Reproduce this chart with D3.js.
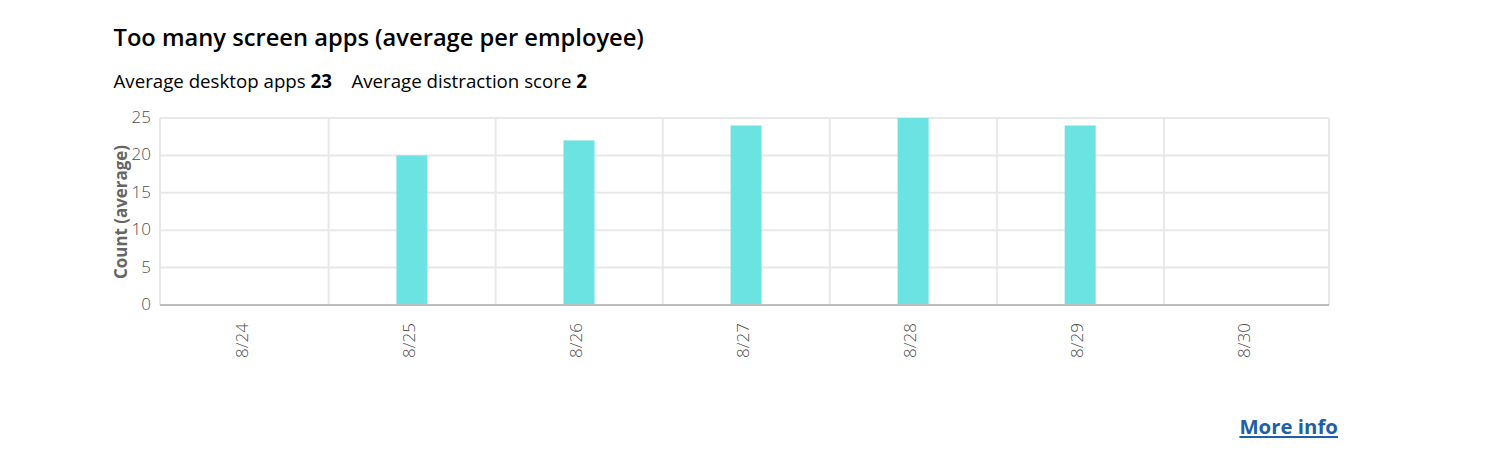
<!DOCTYPE html>
<html>
<head>
<meta charset="utf-8">
<script src="https://cdn.jsdelivr.net/npm/d3@7"></script>
<style>
body { margin: 0; background: #fff; }
text { font-family: "Open Sans", sans-serif; }
.grid line { stroke: #e8e8e8; stroke-width: 2; }
.tick-label { fill: #4d4d4d; font-size: 17px; font-weight: 300; }
</style>
</head>
<body>
<div id="chart"></div>
<script>
const categories = ["8/24", "8/25", "8/26", "8/27", "8/28", "8/29", "8/30"];
const counts = [0, 20, 22, 24, 25, 24, 0];
const yTicks = [0, 5, 10, 15, 20, 25];

const width = 1500;
const height = 450;
const plotLeft = 160;
const plotRight = 1329;
const plotTop = 118;
const plotBottom = 305;

const svg = d3.select("#chart").append("svg")
   .attr("width", width)
   .attr("height", height)
   .style("display", "block");

const x = d3.scaleBand()
   .domain(categories)
   .range([161.5, 1331]);

const y = d3.scaleLinear()
   .domain([0, 25])
   .range([plotBottom, plotTop]);

svg.append("text")
   .attr("x", 113.5)
   .attr("y", 45.5)
   .style("font-size", "23.7px")
   .style("font-weight", 600)
   .style("fill", "#000")
   .text("Too many screen apps (average per employee)");

const summary = svg.append("text")
   .attr("x", 113.5)
   .attr("y", 88)
   .style("font-size", "18.7px")
   .style("fill", "#000");
summary.append("tspan").text("Average desktop apps ");
summary.append("tspan").style("font-weight", 700).text("23");
summary.append("tspan").attr("dx", 19.5).text("Average distraction score ");
summary.append("tspan").style("font-weight", 700).text("2");

// horizontal grid
svg.append("g").attr("class", "grid")
   .selectAll("line")
   .data(yTicks.filter(d => d > 0))
   .enter()
   .append("line")
   .attr("x1", plotLeft)
   .attr("x2", plotRight)
   .attr("y1", d => y(d))
   .attr("y2", d => y(d));

// vertical grid, inner lines sit on the band edges
svg.append("g").attr("class", "grid")
   .selectAll("line")
   .data(categories.slice(1))
   .enter()
   .append("line")
   .attr("x1", d => x(d))
   .attr("x2", d => x(d))
   .attr("y1", y(25))
   .attr("y2", y(0));

// outer edges of the frame
svg.append("g").attr("class", "grid")
   .selectAll("line")
   .data([plotLeft, plotRight])
   .enter()
   .append("line")
   .attr("x1", d => d)
   .attr("x2", d => d)
   .attr("y1", y(25))
   .attr("y2", y(0));

svg.selectAll("rect.bar")
   .data(counts)
   .enter()
   .append("rect")
   .attr("class", "bar")
   .attr("x", (d, i) => x(categories[i]) + x.bandwidth() / 2 - 15.7)
   .attr("width", 31)
   .attr("y", d => y(d))
   .attr("height", d => y(0) - y(d))
   .style("fill", "#6be3e2");

// baseline
svg.append("line")
   .attr("x1", plotLeft)
   .attr("x2", plotRight)
   .attr("y1", y(0))
   .attr("y2", y(0))
   .style("stroke", "#bdbdbd")
   .style("stroke-width", 2);

svg.selectAll("text.yLabel")
   .data(yTicks)
   .enter()
   .append("text")
   .attr("class", "yLabel tick-label")
   .attr("x", 151)
   .attr("y", d => y(d) + 5)
   .style("text-anchor", "end")
   .text(d => d);

svg.selectAll("text.xLabel")
   .data(categories)
   .enter()
   .append("text")
   .attr("class", "xLabel tick-label")
   .attr("transform", d => `translate(${x(d) + x.bandwidth() / 2 - 3},358) rotate(-90)`)
   .attr("dy", "0.35em")
   .text(d => d);

svg.append("text")
   .attr("transform", "translate(126.5,212) rotate(-90)")
   .style("text-anchor", "middle")
   .style("font-size", "16.9px")
   .style("font-weight", 700)
   .style("fill", "#666")
   .text("Count (average)");

svg.append("text")
   .attr("x", 1338)
   .attr("y", 434)
   .style("text-anchor", "end")
   .style("font-size", "20.4px")
   .style("font-weight", 700)
   .style("fill", "#1f5fa8")
   .style("text-decoration", "underline")
   .text("More info");
</script>
</body>
</html>
